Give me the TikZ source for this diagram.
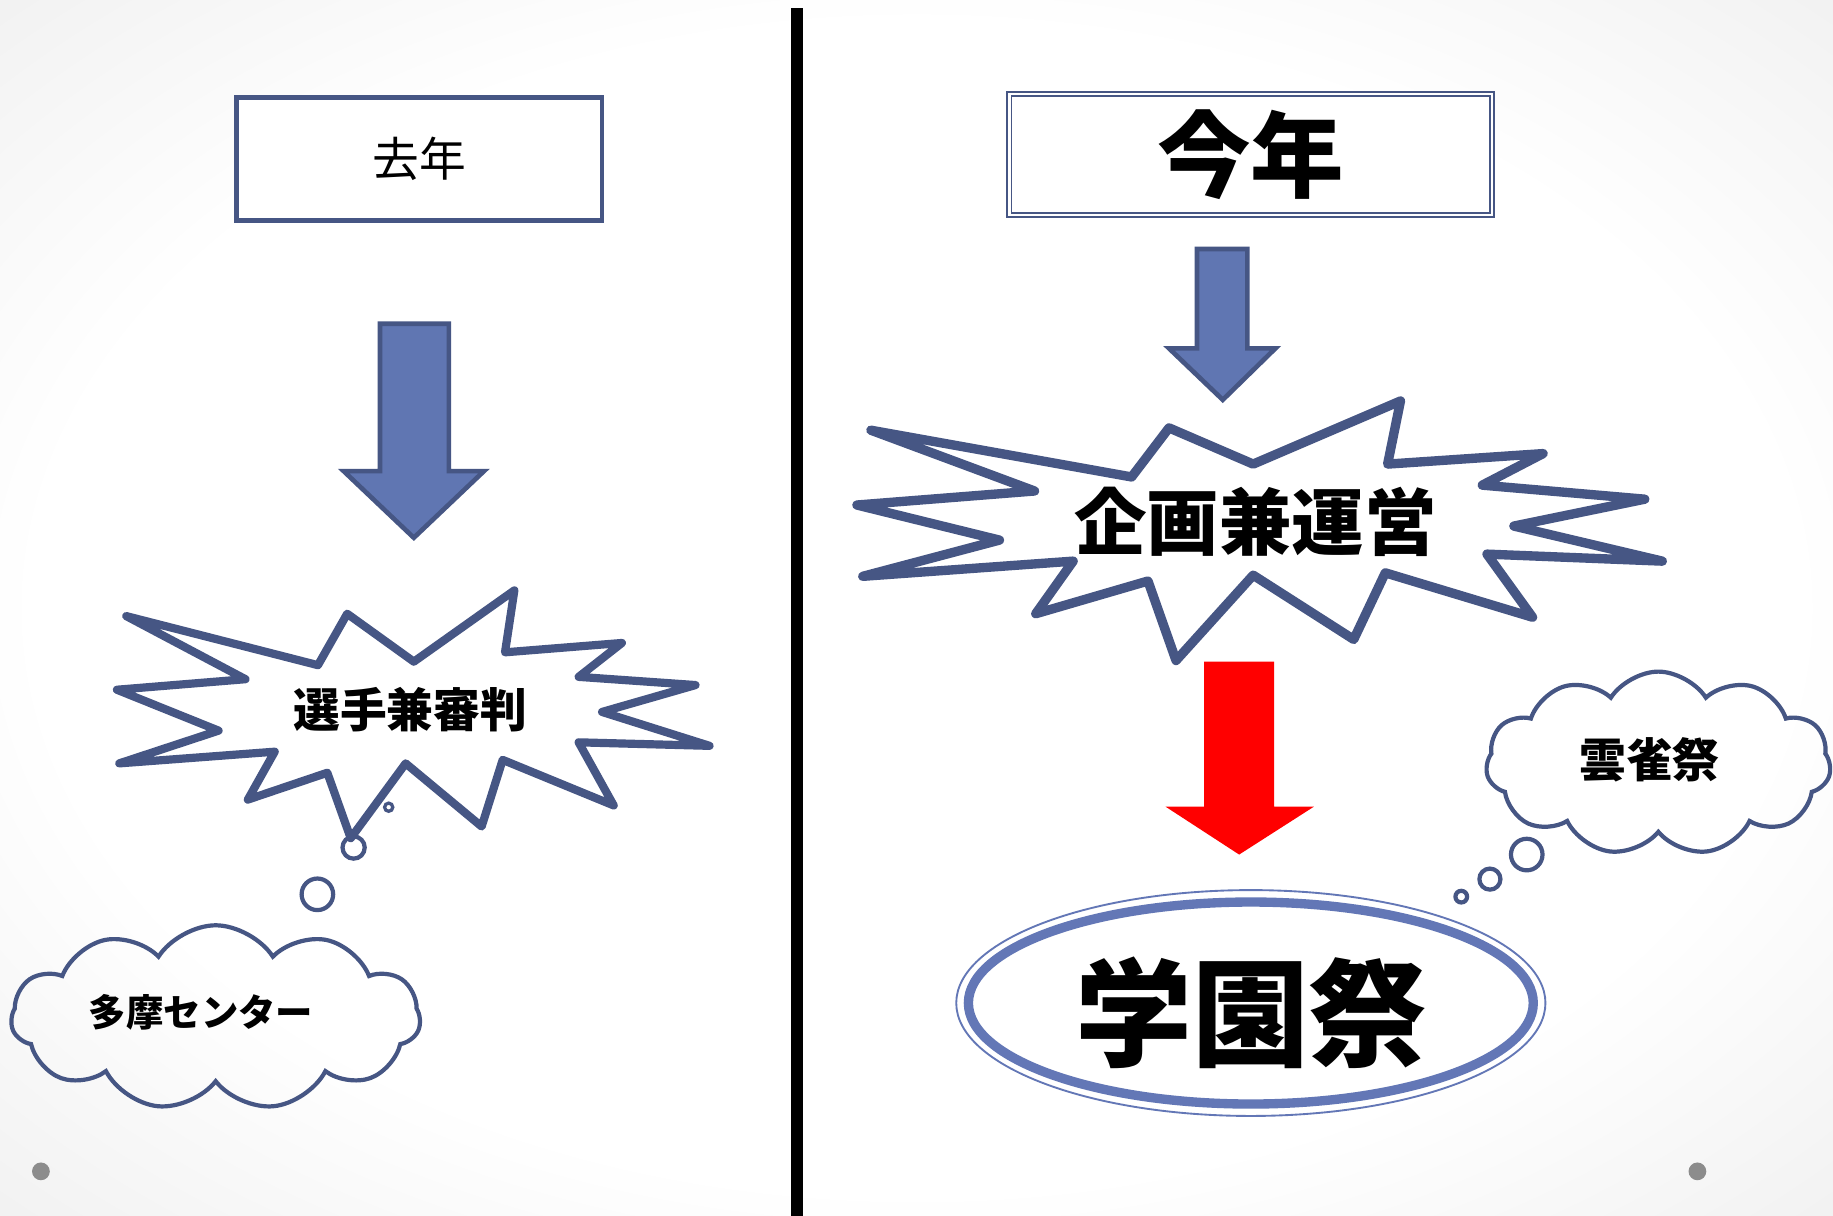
\documentclass[tikz,border=0pt]{standalone}
\usepackage{fontspec}
\newfontfamily\jp{Noto Sans CJK JP}
\usetikzlibrary{shapes.symbols}
\definecolor{edge}{RGB}{70,86,132}
\definecolor{afill}{RGB}{96,118,178}
\definecolor{ering}{RGB}{99,119,182}
\definecolor{dotc}{RGB}{140,140,140}
\pgfdeclareradialshading{bgshade}{\pgfpoint{0bp}{0bp}}{color(0bp)=(white); color(24bp)=(white); color(50bp)=(black!12); color(72bp)=(black!18)}
\begin{document}
\begin{tikzpicture}[x=0.5pt,y=-0.5pt,
  frame/.style={draw=edge, line width=2pt, fill=white, inner sep=0pt},
  dframe/.style={draw=edge, double=white, double distance=1pt, line width=0.8pt, fill=white, inner sep=0pt},
  blockarrow/.style={draw=edge, line width=2pt, fill=afill, line join=miter},
  burst/.style={draw=edge, line width=3.5pt, line join=round, line cap=round},
  thought/.style={cloud, cloud puffs=11, cloud puff arc=115, cloud ignores aspect, draw=edge, line width=1.8pt, inner sep=0pt},
  bubble/.style={circle, draw=edge, line width=1.8pt, inner sep=0pt},
  lbl/.style={text=black, inner sep=0pt}]
\useasboundingbox (0,0) rectangle (1568,1040);
\shade[shading=bgshade] (0,0) rectangle (1568,1040);

% divider
\draw[line width=5pt] (682,7) -- (682,1040);

% ---------- left side ----------
\node[frame, minimum width=156.25pt, minimum height=52.5pt,
      font={\jp\fontsize{20pt}{20pt}\selectfont}] (lastyear) at (358.75,136) {去年};

\draw[blockarrow] (325,277) -- (384,277) -- (384,403) -- (414,403) -- (354,460) -- (294,403) -- (325,403) -- cycle;

\draw[burst] (108,527) -- (272,569) -- (297,525) -- (354,566) -- (440,505) -- (432,558)
  -- (532,550) -- (495,579) -- (595,586) -- (515,609) -- (607,638) -- (495,635)
  -- (525,689) -- (430,650) -- (412,707) -- (347,653) -- (300,717) -- (280,661)
  -- (212,684) -- (235,643) -- (102,653) -- (187,625) -- (100,590) -- (210,581) -- cycle;
\node[lbl, font={\jp\bfseries\fontsize{20pt}{20pt}\selectfont}] (referee) at (351,607) {選手兼審判};

\node[bubble, minimum size=3.5pt, line width=1.4pt] (lb0) at (332.5,690.5) {};
\node[bubble, minimum size=9.5pt] (lb1) at (302.5,725) {};
\node[bubble, minimum size=13.5pt] (lb2) at (271.5,765) {};

\node[thought, minimum width=175pt, minimum height=79pt] (tamacloud) at (184.5,870.5) {};
\node[lbl, font={\jp\bfseries\fontsize{16pt}{16pt}\selectfont}] (tama) at (172,866) {多摩センター};

\fill[dotc] (35,1002) circle[radius=3.8pt];

% ---------- right side ----------
\node[dframe, minimum width=206.5pt, minimum height=51.75pt,
      font={\jp\bfseries\fontsize{40pt}{40pt}\selectfont}] (thisyear) at (1070,132.25) {今年};

\draw[blockarrow] (1024,213) -- (1067,213) -- (1067,298) -- (1091,298) -- (1046,342) -- (1000,298) -- (1024,298) -- cycle;

\draw[burst, line width=4pt] (745,368) -- (968,408) -- (1000,366) -- (1072,397) -- (1198,343)
  -- (1187,397) -- (1320,388) -- (1268,415) -- (1407,427) -- (1295,450) -- (1422,480)
  -- (1272,474) -- (1311,528) -- (1185,490) -- (1158,547) -- (1072,492) -- (1006,565)
  -- (982,497) -- (886,525) -- (918,480) -- (738,493) -- (855,462) -- (733,432) -- (885,420) -- cycle;
\node[lbl, font={\jp\bfseries\fontsize{31pt}{31pt}\selectfont}] (plan) at (1074,446) {企画兼運営};

\fill[red] (1030,566) -- (1090,566) -- (1090,690) -- (1124,690) -- (1060,731) -- (997,690) -- (1030,690) -- cycle;

\fill[white] (1070,858) ellipse[x radius=126pt, y radius=48.3pt];
\draw[ering, line width=0.8pt] (1070,858) ellipse[x radius=126pt, y radius=48.3pt];
\draw[ering, line width=4pt] (1070,858) ellipse[x radius=120.8pt, y radius=43.2pt];
\node[lbl, font={\jp\bfseries\fontsize{50pt}{50pt}\selectfont}] (festival) at (1070,866) {学園祭};

\node[thought, minimum width=147.5pt, minimum height=78.5pt] (hibaricloud) at (1418.6,653) {};
\node[lbl, font={\jp\bfseries\fontsize{20pt}{20pt}\selectfont}] (hibari) at (1411,650) {雲雀祭};

\node[bubble, minimum size=13.5pt] (rb1) at (1306,731) {};
\node[bubble, minimum size=9pt] (rb2) at (1274.5,752) {};
\node[bubble, minimum size=5pt] (rb3) at (1250,767) {};

\fill[dotc] (1452,1002) circle[radius=3.8pt];
\end{tikzpicture}
\end{document}
